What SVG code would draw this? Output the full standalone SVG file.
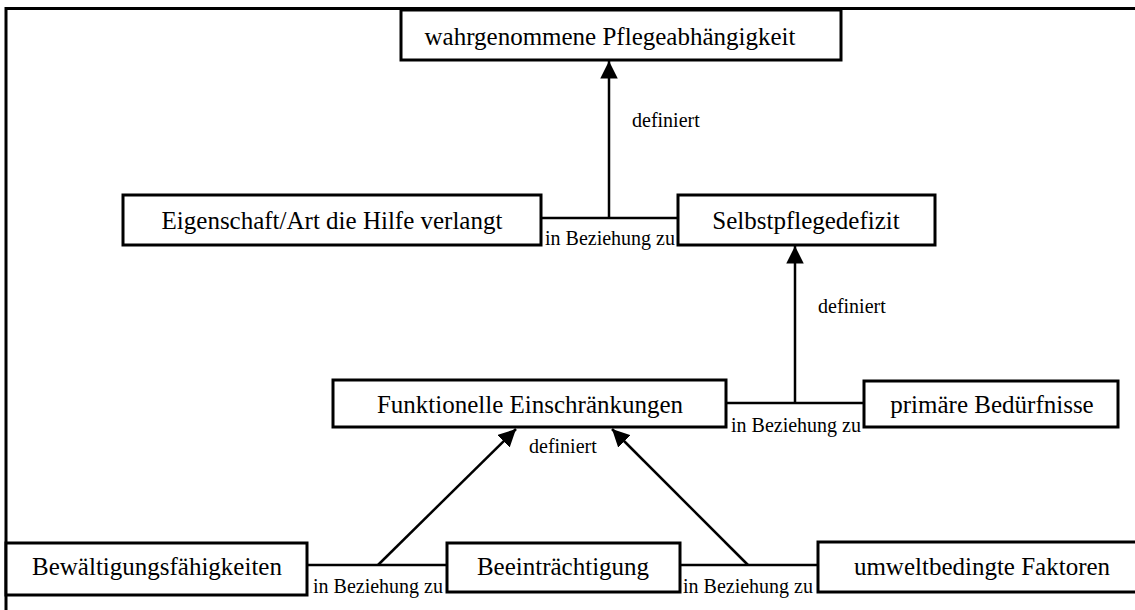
<svg xmlns="http://www.w3.org/2000/svg" width="1135" height="610" viewBox="0 0 1135 610">
<defs>
<style>
.box{fill:#fff;stroke:#000;stroke-width:3}
.frame{fill:none;stroke:#000;stroke-width:3}
.ln{fill:none;stroke:#000;stroke-width:2.5}
.big{font-family:"Liberation Serif","Times New Roman",serif;font-size:25px;fill:#000;text-anchor:middle}
.sm{font-family:"Liberation Serif","Times New Roman",serif;font-size:20px;fill:#000}
</style>
<marker id="ah" viewBox="0 0 10 10" refX="10" refY="5" markerWidth="7" markerHeight="7" markerUnits="strokeWidth" orient="auto">
<path d="M0,0 L10,5 L0,10 z" fill="#000"/>
</marker>
</defs>
<rect width="1135" height="610" fill="#fff"/>
<path class="frame" d="M6,612 L6,8.5 L1140,8.5"/>
<g id="connectors">
<path class="ln" d="M541,218 L678,218"/>
<path class="ln" d="M609,218 L609,61" marker-end="url(#ah)"/>
<path class="ln" d="M726,403 L864,403"/>
<path class="ln" d="M795,403 L795,246" marker-end="url(#ah)"/>
<path class="ln" d="M307,565 L447,565"/>
<path class="ln" d="M680,565 L818,565"/>
<path class="ln" d="M378,565 L516,429" marker-end="url(#ah)"/>
<path class="ln" d="M748,565 L612,429" marker-end="url(#ah)"/>
<text class="sm" x="632" y="127">definiert</text>
<text class="sm" x="818" y="313">definiert</text>
<text class="sm" x="529" y="453">definiert</text>
<text class="sm" x="545" y="245">in Beziehung zu</text>
<text class="sm" x="731" y="432">in Beziehung zu</text>
<text class="sm" x="313" y="593">in Beziehung zu</text>
<text class="sm" x="683" y="593">in Beziehung zu</text>
</g>
<g id="n-pflegeabh">
<rect class="box" x="401" y="10" width="440" height="50"/>
<text class="big" x="610" y="45">wahrgenommene Pflegeabhängigkeit</text>
</g>
<g id="n-eigenschaft">
<rect class="box" x="123" y="195" width="418" height="50"/>
<text class="big" x="332" y="229">Eigenschaft/Art die Hilfe verlangt</text>
</g>
<g id="n-selbstpflege">
<rect class="box" x="678" y="195" width="257" height="50"/>
<text class="big" x="806" y="229">Selbstpflegedefizit</text>
</g>
<g id="n-funktionell">
<rect class="box" x="333" y="380" width="393" height="47"/>
<text class="big" x="530" y="413">Funktionelle Einschränkungen</text>
</g>
<g id="n-primaer">
<rect class="box" x="864" y="381" width="254" height="46"/>
<text class="big" x="992" y="413">primäre Bedürfnisse</text>
</g>
<g id="n-bewaeltigung">
<rect class="box" x="6" y="543" width="301" height="52"/>
<text class="big" x="157" y="575">Bewältigungsfähigkeiten</text>
</g>
<g id="n-beeintraechtigung">
<rect class="box" x="447" y="543" width="233" height="49"/>
<text class="big" x="563" y="575">Beeinträchtigung</text>
</g>
<g id="n-umwelt">
<rect class="box" x="818" y="542" width="330" height="50"/>
<text class="big" x="982" y="575">umweltbedingte Faktoren</text>
</g>
</svg>
